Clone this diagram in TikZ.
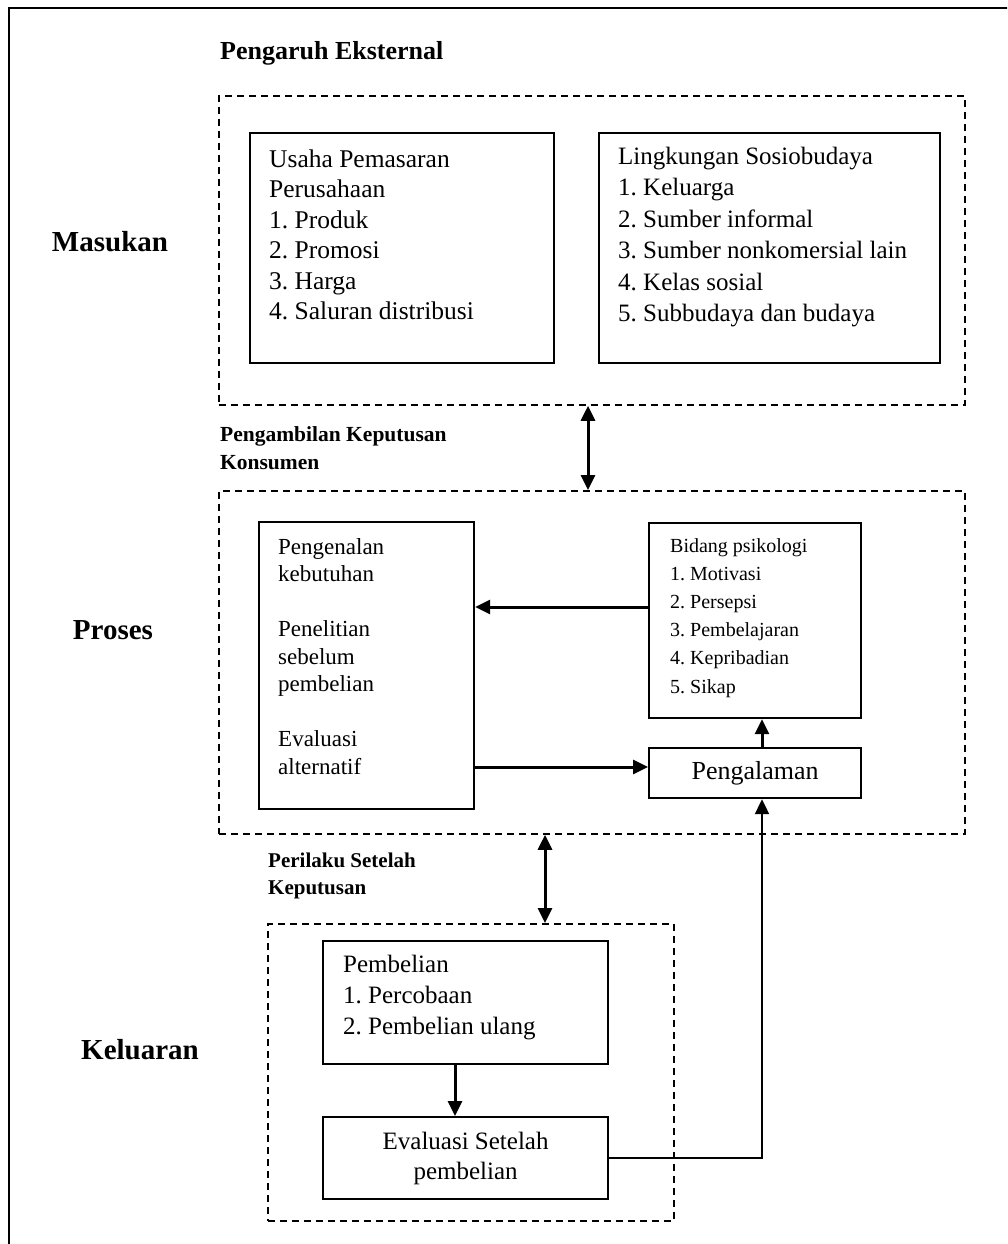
\documentclass[tikz,border=0pt]{standalone}
\usepackage{fontspec}
\setmainfont{Liberation Serif}
\usetikzlibrary{arrows.meta}
\frenchspacing
\begin{document}
\begin{tikzpicture}[x=1pt,y=-1pt,
  box/.style={draw, line width=2.2pt, inner sep=0, anchor=north west},
  dbox/.style={draw, line width=1.8pt, dash pattern=on 7pt off 5pt, inner sep=0, anchor=north west},
  txt/.style={inner sep=0, anchor=base west, align=left},
  side/.style={inner sep=0, anchor=center, font=\bfseries\fontsize{29}{34}\selectfont},
  head/.style={inner sep=0, anchor=base west, align=left},
  arr/.style={line width=3pt, -{Triangle[length=15pt,width=14pt]}},
  darr/.style={line width=3pt, {Triangle[length=15pt,width=14pt]}-{Triangle[length=15pt,width=14pt]}},
]
\useasboundingbox (0,0) rectangle (1007,1244);
\clip (0,0) rectangle (1007,1244);
% outer frame (only left and top visible)
\draw[line width=2.5pt] (9,1300) -- (9,8) -- (1100,8);

% helper coordinates
\coordinate (x588) at (588,0);
\coordinate (x545) at (545,0);
\coordinate (x762) at (762,0);
\coordinate (x455) at (455,0);
\coordinate (y607) at (0,607);
\coordinate (y767) at (0,767);

% side labels
\node[side] (masukan) at (110,242) {Masukan};
\node[side] (proses) at (113,630) {Proses};
\node[side] (keluaran) at (140,1050) {Keluaran};

% headings (anchored at the baseline of the last line)
\node[head, font=\bfseries\fontsize{26}{30}\selectfont] (pengaruh) at (220,60) {Pengaruh Eksternal};
\node[head, font=\bfseries\fontsize{21.5}{28}\selectfont] (pengambilan) at (220,469.5) {Pengambilan Keputusan\\Konsumen};
\node[head, font=\bfseries\fontsize{21}{27}\selectfont] (perilaku) at (268,894) {Perilaku Setelah\\Keputusan};

% dashed groups
\node[dbox, minimum width=746, minimum height=309] (ext) at (218,95) {};
\node[dbox, minimum width=746, minimum height=343] (proc) at (218,490) {};
\node[dbox, minimum width=406, minimum height=297] (out) at (267,923) {};

% input boxes
\node[box, minimum width=304, minimum height=230] (usaha) at (249,132) {};
\node[txt, font=\fontsize{25.5}{30.5}\selectfont] (usahaT) at (269,319.5)
  {Usaha Pemasaran\\Perusahaan\\1. Produk\\2. Promosi\\3. Harga\\4. Saluran distribusi};
\node[box, minimum width=341, minimum height=230] (ling) at (598,132) {};
\node[txt, font=\fontsize{25}{31.5}\selectfont] (lingT) at (618,321.5)
  {Lingkungan Sosiobudaya\\1. Keluarga\\2. Sumber informal\\3. Sumber nonkomersial lain\\4. Kelas sosial\\5. Subbudaya dan budaya};

% process boxes
\node[box, minimum width=215, minimum height=287] (pgn) at (258,521) {};
\node[txt, font=\fontsize{23}{27.5}\selectfont] (pgnT) at (278,774)
  {Pengenalan\\kebutuhan\\[27.5pt]Penelitian\\sebelum\\pembelian\\[27.5pt]Evaluasi\\alternatif};
\node[box, minimum width=212, minimum height=195] (bid) at (648,522) {};
\node[txt, font=\fontsize{20}{28.2}\selectfont] (bidT) at (670,693)
  {Bidang psikologi\\1. Motivasi\\2. Persepsi\\3. Pembelajaran\\4. Kepribadian\\5. Sikap};
\node[box, minimum width=212, minimum height=50, font=\fontsize{26}{30}\selectfont] (peng) at (648,747) {Pengalaman};

% output boxes
\node[box, minimum width=285, minimum height=123] (pem) at (322,940) {};
\node[txt, font=\fontsize{25}{31}\selectfont] (pemT) at (343,1034)
  {Pembelian\\1. Percobaan\\2. Pembelian ulang};
\node[box, minimum width=285, minimum height=82, align=center, font=\fontsize{25}{30}\selectfont] (eva) at (322,1116) {Evaluasi Setelah\\pembelian};

% connectors
\draw[darr] (ext.south -| x588) -- (proc.north -| x588);
\draw[darr] (proc.south -| x545) -- (out.north -| x545);
\draw[arr] (bid.west |- y607) -- (pgn.east |- y607);
\draw[arr] (pgn.east |- y767) -- (peng.west |- y767);
\draw[arr] (peng.north -| x762) -- (bid.south -| x762);
\draw[arr] (pem.south -| x455) -- (eva.north -| x455);
\draw[line width=2.2pt, -{Triangle[length=15pt,width=14pt]}] (eva.east) -- (x762 |- eva.east) -- (peng.south -| x762);
\end{tikzpicture}
\end{document}
